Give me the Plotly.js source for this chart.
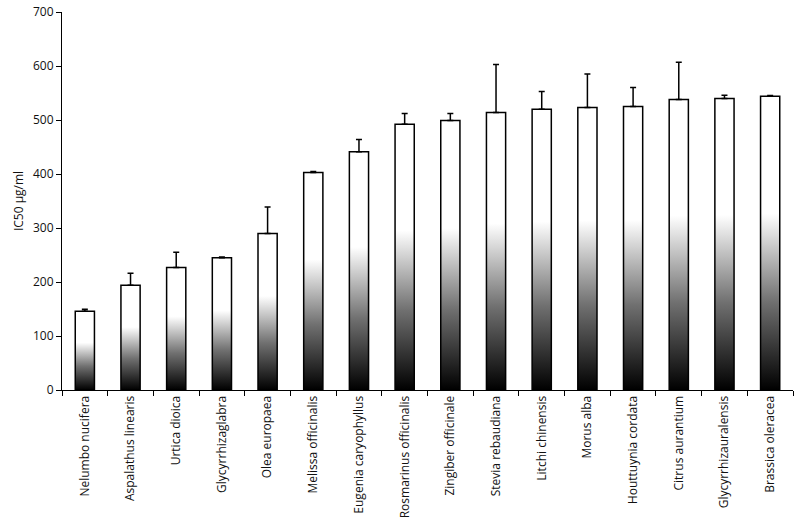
<!DOCTYPE html>
<html>
<head>
<meta charset="utf-8">
<script src="https://cdn.plot.ly/plotly-3.0.1.min.js"></script>
<style>html,body{margin:0;padding:0;background:#fff;}#chart{width:802px;height:528px;}</style>
</head>
<body>
<div id="chart"></div>
<script>
const species = ["Nelumbo nucifera","Aspalathus linearis","Urtica dioica","Glycyrrhizaglabra","Olea europaea","Melissa officinalis","Eugenia caryophyllus","Rosmarinus officinalis","Zingiber officinale","Stevia rebaudiana","Litchi chinensis","Morus alba","Houttuynia cordata","Citrus aurantium","Glycyrrhizauralensis","Brassica oleracea"];
const ic50 = [146, 194, 227, 245, 290, 403, 441, 492, 499, 514, 520, 523, 525, 538, 540, 544];
const errPlus = [3.5, 22, 28, 1.5, 49, 1.5, 23, 20, 13, 89, 33, 62, 35, 69, 6, 1.5];
const errMinus = ic50.map(() => 0);
const yTicks = [0, 100, 200, 300, 400, 500, 600, 700];

const font = {family: "Open Sans, Liberation Sans, sans-serif", size: 12, color: "#111"};

const trace = {
  type: "bar",
  x: species,
  y: ic50,
  marker: {color: "#ffffff", line: {color: "#000", width: 1.5}},
  error_y: {type: "data", symmetric: false, array: errPlus, arrayminus: errMinus,
            color: "#000", thickness: 1.5, width: 3},
  hoverinfo: "x+y"
};

const layout = {
  width: 802, height: 528,
  margin: {l: 62, r: 9, t: 12, b: 138},
  paper_bgcolor: "#fff", plot_bgcolor: "#fff",
  bargap: 0.58,
  showlegend: false,
  font: font,
  xaxis: {
    type: "category",
    tickson: "boundaries",
    ticks: "outside", ticklen: 5, tickcolor: "#000", tickwidth: 1,
    showline: true, linecolor: "#000", linewidth: 1,
    showgrid: false, zeroline: false,
    tickangle: -90,
    tickfont: font
  },
  yaxis: {
    range: [0, 700],
    tickvals: yTicks,
    ticktext: yTicks.map(String),
    ticks: "outside", ticklen: 5, tickcolor: "#000", tickwidth: 1,
    showline: true, linecolor: "#000", linewidth: 1,
    showgrid: false, zeroline: false,
    tickfont: font,
    title: {text: "IC50 µg/ml", font: font, standoff: 6}
  }
};

const gd = document.getElementById("chart");
function applyGradient() {
  const svg = gd.querySelector(".main-svg");
  if (!svg) return;
  let defs = svg.querySelector("defs");
  const ns = "http://www.w3.org/2000/svg";
  if (!defs) { defs = document.createElementNS(ns, "defs"); svg.insertBefore(defs, svg.firstChild); }
  if (!svg.querySelector("#barGrad")) {
    const g = document.createElementNS(ns, "linearGradient");
    g.setAttribute("id", "barGrad");
    g.setAttribute("x1", "0"); g.setAttribute("y1", "1");
    g.setAttribute("x2", "0"); g.setAttribute("y2", "0");
    [["0", "#000000"], ["0.3", "#707070"], ["0.6", "#ffffff"], ["1", "#ffffff"]].forEach(([o, c]) => {
      const s = document.createElementNS(ns, "stop");
      s.setAttribute("offset", o); s.setAttribute("stop-color", c);
      g.appendChild(s);
    });
    defs.appendChild(g);
  }
  gd.querySelectorAll(".bars .point path").forEach(p => { p.style.fill = "url(#barGrad)"; });
}
Plotly.newPlot(gd, [trace], layout, {displayModeBar: false, staticPlot: true}).then(applyGradient);
</script>
</body>
</html>
